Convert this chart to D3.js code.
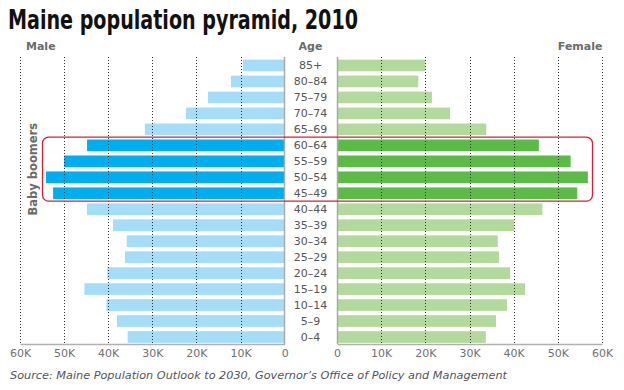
<!DOCTYPE html>
<html>
<head>
<meta charset="utf-8">
<script src="https://cdn.jsdelivr.net/npm/d3@7"></script>
<style>
  body { margin: 0; background: #fff; }
  svg { display: block; font-family: "DejaVu Sans", Verdana, sans-serif; }
</style>
</head>
<body>
<div id="chart"></div>
<script>
// age groups, top to bottom
const ages = ['85+', '80–84', '75–79', '70–74', '65–69', '60–64', '55–59', '50–54', '45–49',
  '40–44', '35–39', '30–34', '25–29', '20–24', '15–19', '10–14', '5–9', '0–4'];
const male = [9450, 12200, 17400, 22400, 31700, 44800, 50000, 54100, 52500,
  44800, 38900, 35800, 36200, 40200, 45400, 40400, 38000, 35600];
const female = [20000, 18400, 21500, 25600, 33800, 45700, 52900, 56800, 54400,
  46500, 40100, 36400, 36700, 39200, 42600, 38500, 36000, 33700];
const boomers = ['60–64', '55–59', '50–54', '45–49'];
const ticks = [0, 10000, 20000, 30000, 40000, 50000, 60000];

const W = 624, H = 390;
const plotTop = 57, plotBottom = 344;

const svg = d3.select('#chart').append('svg').attr('width', W).attr('height', H);

const xL = d3.scaleLinear().domain([0, 60000]).range([284.7, 20]);
const xR = d3.scaleLinear().domain([0, 60000]).range([337, 602]);
const y = d3.scaleBand().domain(ages).range([57.5, 345]).paddingInner(0.27).paddingOuter(0.135);

const rows = ages.map((a, i) => ({ age: a, m: male[i], f: female[i], boom: boomers.includes(a) }));

// title
svg.append('text')
  .attr('x', 8).attr('y', 29)
  .attr('font-size', '26px').attr('font-weight', 'bold').attr('fill', '#111')
  .attr('textLength', 350).attr('lengthAdjust', 'spacingAndGlyphs')
  .text('Maine population pyramid, 2010');

// header labels
const hdr = svg.append('g').attr('font-size', '11px').attr('font-weight', 'bold').attr('fill', '#6b6b6b');
hdr.append('text').attr('x', 26).attr('y', 50).text('Male');
hdr.append('text').attr('x', 310.5).attr('y', 50).attr('text-anchor', 'middle').text('Age');
hdr.append('text').attr('x', 602.5).attr('y', 50).attr('text-anchor', 'end').text('Female');

// bars
svg.append('g').selectAll('rect').data(rows).join('rect')
  .attr('x', d => xL(d.m)).attr('y', d => y(d.age))
  .attr('width', d => xL(0) - xL(d.m)).attr('height', y.bandwidth())
  .attr('fill', d => d.boom ? '#00aeef' : '#a5dcf7');

svg.append('g').selectAll('rect').data(rows).join('rect')
  .attr('x', xR(0)).attr('y', d => y(d.age))
  .attr('width', d => xR(d.f) - xR(0)).attr('height', y.bandwidth())
  .attr('fill', d => d.boom ? '#5cba47' : '#b3d99c');

// dotted gridlines over the bars
const grid = svg.append('g').attr('stroke', '#333').attr('stroke-width', 1).attr('stroke-dasharray', '1,2');
ticks.filter(t => t > 0).forEach(t => {
  grid.append('line').attr('x1', Math.round(xL(t)) + 0.5).attr('x2', Math.round(xL(t)) + 0.5)
    .attr('y1', plotTop).attr('y2', plotBottom);
  grid.append('line').attr('x1', Math.round(xR(t)) + 0.5).attr('x2', Math.round(xR(t)) + 0.5)
    .attr('y1', plotTop).attr('y2', plotBottom);
});

// zero lines
svg.append('line').attr('x1', 284.5).attr('x2', 284.5).attr('y1', plotTop).attr('y2', plotBottom)
  .attr('stroke', '#aaa').attr('stroke-width', 1.5);
svg.append('line').attr('x1', 337.5).attr('x2', 337.5).attr('y1', plotTop).attr('y2', plotBottom)
  .attr('stroke', '#aaa').attr('stroke-width', 1.5);

// axes
const fmt = d => d === 0 ? '0' : (d / 1000) + 'K';
function styleAxis(g) {
  g.select('.domain').attr('stroke', '#b0b0b0').attr('stroke-width', 1.5);
  g.selectAll('.tick line').remove();
  g.selectAll('.tick text').attr('fill', '#707070').attr('font-size', '11px')
    .attr('font-family', '"DejaVu Sans", Verdana, sans-serif').attr('dy', '0.9em');
}
svg.append('g').attr('transform', `translate(0,${plotBottom})`)
  .call(d3.axisBottom(xL).tickValues(ticks).tickFormat(fmt).tickSizeOuter(0).tickSize(0))
  .call(styleAxis);
svg.append('g').attr('transform', `translate(0,${plotBottom})`)
  .call(d3.axisBottom(xR).tickValues(ticks).tickFormat(fmt).tickSizeOuter(0).tickSize(0))
  .call(styleAxis);

// age labels
svg.append('g').selectAll('text').data(rows).join('text')
  .attr('x', 310.5).attr('y', d => y(d.age) + y.bandwidth() / 2)
  .attr('dy', '0.36em').attr('text-anchor', 'middle')
  .attr('font-size', '11px').attr('fill', '#555')
  .text(d => d.age);

// baby boomers box
const bTop = y(boomers[0]) - 2.3;
const bBot = y(boomers[boomers.length - 1]) + y.bandwidth() + 2;
svg.append('rect')
  .attr('x', 42.5).attr('y', bTop).attr('width', 592.5 - 42.5).attr('height', bBot - bTop)
  .attr('rx', 6).attr('ry', 6)
  .attr('fill', 'none').attr('stroke', '#d42035').attr('stroke-width', 1.3);

svg.append('text')
  .attr('transform', `translate(36.5,${(bTop + bBot) / 2}) rotate(-90)`)
  .attr('text-anchor', 'middle')
  .attr('font-size', '11.5px').attr('font-weight', 'bold').attr('fill', '#6b6b6b')
  .text('Baby boomers');

// source
svg.append('text')
  .attr('x', 10).attr('y', 379)
  .attr('font-size', '11px').attr('font-style', 'italic').attr('fill', '#555')
  .attr('textLength', 497).attr('lengthAdjust', 'spacingAndGlyphs')
  .text('Source: Maine Population Outlook to 2030, Governor’s Office of Policy and Management');
</script>
</body>
</html>
